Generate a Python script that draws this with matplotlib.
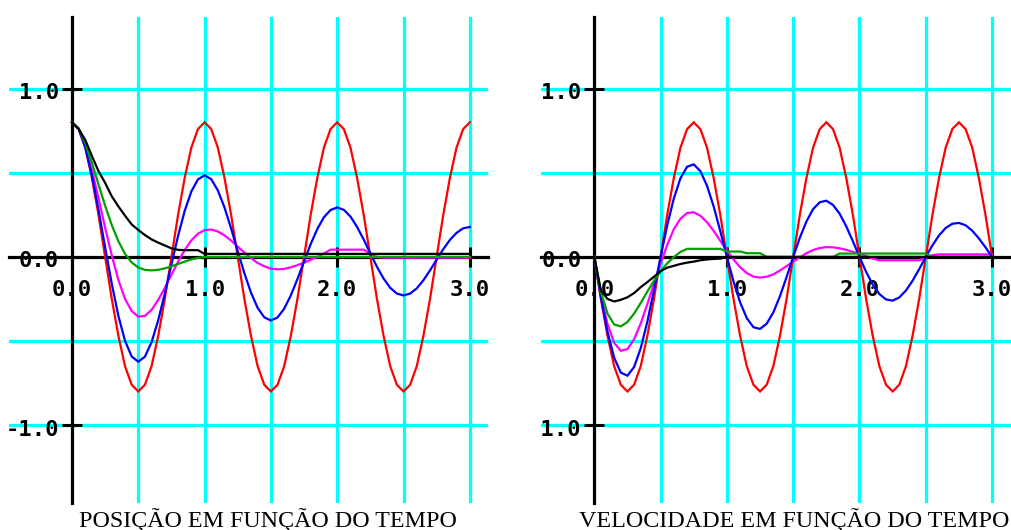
import numpy as np
import matplotlib
matplotlib.use("Agg")
import matplotlib.pyplot as plt
from matplotlib.transforms import offset_copy

# tempo (s), amostrado a cada 0.05
t = np.round(np.linspace(0.0, 3.0, 61), 2)

# posicao
red_pos = [0.80, 0.76, 0.65, 0.47, 0.25, 0.00, -0.25, -0.47, -0.65, -0.76,
           -0.80, -0.76, -0.65, -0.47, -0.25, 0.00, 0.25, 0.47, 0.65, 0.76,
           0.80, 0.76, 0.65, 0.47, 0.25, 0.00, -0.25, -0.47, -0.65, -0.76,
           -0.80, -0.76, -0.65, -0.47, -0.25, 0.00, 0.25, 0.47, 0.65, 0.76,
           0.80, 0.76, 0.65, 0.47, 0.25, 0.00, -0.25, -0.47, -0.65, -0.76,
           -0.80, -0.76, -0.65, -0.47, -0.25, 0.00, 0.25, 0.47, 0.65, 0.76,
           0.80]
blue_pos = [0.800, 0.762, 0.651, 0.485, 0.279, 0.056, -0.160, -0.351, -0.499, -0.592,
            -0.623, -0.593, -0.507, -0.377, -0.217, -0.044, 0.125, 0.274, 0.389, 0.461,
            0.485, 0.462, 0.395, 0.294, 0.169, 0.034, -0.097, -0.213, -0.303, -0.359,
            -0.378, -0.360, -0.308, -0.229, -0.132, -0.027, 0.076, 0.166, 0.236, 0.279,
            0.294, 0.280, 0.240, 0.178, 0.103, 0.021, -0.059, -0.129, -0.184, -0.218,
            -0.229, -0.218, -0.187, -0.139, -0.080, -0.016, 0.046, 0.101, 0.143, 0.170,
            0.178]
magenta_pos = [0.800, 0.763, 0.663, 0.518, 0.348, 0.173, 0.009, -0.138, -0.250, -0.322,
               -0.355, -0.351, -0.315, -0.256, -0.184, -0.105, -0.029, 0.041, 0.098, 0.138,
               0.159, 0.163, 0.151, 0.128, 0.097, 0.061, 0.026, -0.007, -0.036, -0.056,
               -0.070, -0.074, -0.071, -0.062, -0.049, -0.034, -0.017, 0.000, 0.020, 0.043,
               0.043, 0.043, 0.043, 0.043, 0.043, 0.020, 0.000, -0.004, -0.004, -0.004,
               -0.004, -0.004, -0.004, -0.004, -0.004, -0.004, -0.004, -0.004, -0.004, -0.004,
               -0.004]
green_pos = [0.800, 0.765, 0.677, 0.560, 0.430, 0.304, 0.189, 0.093, 0.018, -0.033,
             -0.063, -0.077, -0.080, -0.077, -0.068, -0.056, -0.042, -0.028, -0.015, -0.006,
             0.0, 0.0, 0.0, 0.0, 0.0, 0.0, 0.0, 0.0, 0.0, 0.0,
             0.0, 0.0, 0.0, 0.0, 0.0, 0.0, 0.0, 0.0, 0.0, 0.0,
             0.0, 0.0, 0.0, 0.0, 0.0, 0.0, 0.0, 0.0, 0.0, 0.0,
             0.0, 0.0, 0.0, 0.0, 0.0, 0.0, 0.0, 0.0, 0.0, 0.0,
             0.0]
black_pos = [0.800, 0.760, 0.695, 0.600, 0.510, 0.440, 0.360, 0.300, 0.245, 0.193,
             0.160, 0.130, 0.104, 0.085, 0.068, 0.051, 0.042, 0.040, 0.040, 0.040,
             0.018, 0.018, 0.018, 0.018, 0.018, 0.018, 0.018, 0.018, 0.018, 0.018,
             0.018, 0.018, 0.018, 0.018, 0.018, 0.018, 0.018, 0.018, 0.018, 0.018,
             0.018, 0.018, 0.018, 0.018, 0.018, 0.018, 0.018, 0.018, 0.018, 0.018,
             0.018, 0.018, 0.018, 0.018, 0.018, 0.018, 0.018, 0.018, 0.018, 0.018,
             0.018]

# velocidade
red_vel = [0.00, -0.25, -0.47, -0.65, -0.76, -0.80, -0.76, -0.65, -0.47, -0.25,
           0.00, 0.25, 0.47, 0.65, 0.76, 0.80, 0.76, 0.65, 0.47, 0.25,
           0.00, -0.25, -0.47, -0.65, -0.76, -0.80, -0.76, -0.65, -0.47, -0.25,
           0.00, 0.25, 0.47, 0.65, 0.76, 0.80, 0.76, 0.65, 0.47, 0.25,
           0.00, -0.25, -0.47, -0.65, -0.76, -0.80, -0.76, -0.65, -0.47, -0.25,
           0.00, 0.25, 0.47, 0.65, 0.76, 0.80, 0.76, 0.65, 0.47, 0.25,
           0.00]
blue_vel = [0.000, -0.241, -0.447, -0.600, -0.688, -0.706, -0.655, -0.543, -0.385, -0.197,
            0.000, 0.188, 0.348, 0.468, 0.536, 0.550, 0.510, 0.423, 0.300, 0.154,
            0.000, -0.146, -0.271, -0.364, -0.418, -0.428, -0.397, -0.330, -0.234, -0.120,
            0.000, 0.114, 0.211, 0.284, 0.325, 0.334, 0.309, 0.257, 0.182, 0.093,
            0.000, -0.089, -0.165, -0.221, -0.253, -0.260, -0.241, -0.200, -0.142, -0.073,
            0.000, 0.069, 0.128, 0.172, 0.197, 0.202, 0.188, 0.156, 0.110, 0.057,
            0.000]
magenta_vel = [0.000, -0.228, -0.401, -0.511, -0.558, -0.548, -0.490, -0.396, -0.281, -0.158,
               -0.040, 0.072, 0.165, 0.227, 0.261, 0.265, 0.245, 0.206, 0.155, 0.096,
               0.039, -0.015, -0.062, -0.096, -0.117, -0.123, -0.118, -0.104, -0.081, -0.055,
               -0.028, -0.003, 0.022, 0.041, 0.053, 0.058, 0.057, 0.051, 0.042, 0.030,
               0.018, 0.005, -0.010, -0.020, -0.020, -0.020, -0.020, -0.020, -0.020, -0.020,
               -0.005, 0.010, 0.015, 0.015, 0.015, 0.015, 0.015, 0.015, 0.015, 0.015,
               0.015]
green_vel = [0.000, -0.209, -0.338, -0.402, -0.413, -0.387, -0.337, -0.274, -0.206, -0.142,
             -0.085, -0.038, -0.001, 0.030, 0.048, 0.048, 0.048, 0.048, 0.048, 0.048,
             0.032, 0.032, 0.032, 0.022, 0.022, 0.022, 0.0, 0.0, 0.0, 0.0,
             0.0, 0.0, 0.0, 0.0, 0.0, 0.0, 0.0, 0.020, 0.020, 0.020,
             0.020, 0.020, 0.020, 0.020, 0.020, 0.020, 0.020, 0.020, 0.020, 0.020,
             0.020, 0.0, 0.0, 0.0, 0.0, 0.0, 0.0, 0.0, 0.0, 0.0,
             0.0]
black_vel = [0.000, -0.200, -0.250, -0.265, -0.255, -0.240, -0.215, -0.180, -0.150, -0.118,
             -0.085, -0.064, -0.053, -0.042, -0.034, -0.028, -0.020, -0.015, -0.012, -0.010,
             0.0, 0.0, 0.0, 0.0, 0.0, 0.0, 0.0, 0.0, 0.0, 0.0,
             0.0, 0.0, 0.0, 0.0, 0.0, 0.0, 0.0, 0.0, 0.0, 0.0,
             0.0, 0.0, 0.0, 0.0, 0.0, 0.0, 0.0, 0.0, 0.0, 0.0,
             0.0, 0.0, 0.0, 0.0, 0.0, 0.0, 0.0, 0.0, 0.0, 0.0,
             0.0]

colors = ['#ff0000', '#ff00ff', '#0000ff', '#00a000', '#000000']
grid_x = [0.5, 1.0, 1.5, 2.0, 2.5, 3.0]
grid_y = [-1.0, -0.5, 0.5, 1.0]
xtick_vals = [0, 1, 2, 3]
xtick_labels = ['0.0', '1.0', '2.0', '3.0']
ytick_vals = [1, 0, -1]
ytick_labels = ['1.0', '0.0', '-1.0']
titles = ['POSIÇÃO EM FUNÇÃO DO TEMPO', 'VELOCIDADE EM FUNÇÃO DO TEMPO']

W, H = 1012, 530
fig = plt.figure(figsize=(W / 100, H / 100), dpi=100)

CYAN = '#00ffff'
tick_font = dict(family='DejaVu Sans Mono', fontsize=16, fontweight='bold')


def panel(left_px, right_px, x0_px, series, title, title_px):
    px_per_x = 132.6
    ax = fig.add_axes([left_px / W, 1 - 503 / H, (right_px - left_px) / W, (503 - 16.7) / H])
    ax.set_xlim((left_px - x0_px) / px_per_x, (right_px - x0_px) / px_per_x)
    ax.set_ylim(-1.463, 1.428)

    for gx in grid_x:
        ax.axvline(gx, color=CYAN, lw=2.3, zorder=1)
    for gy in grid_y:
        ax.axhline(gy, color=CYAN, lw=2.3, zorder=1)

    for s in ['top', 'right']:
        ax.spines[s].set_visible(False)
    for s in ['left', 'bottom']:
        ax.spines[s].set_position(('data', 0))
        ax.spines[s].set_linewidth(2.3)
        ax.spines[s].set_zorder(2.5)
    ax.set_xticks([1, 2, 3])
    ax.set_yticks([-1, 1])
    ax.tick_params(axis='x', direction='inout', length=14.4, width=2.2,
                   labelbottom=False)
    ax.tick_params(axis='y', direction='inout', length=15.1, width=2.2,
                   labelleft=False)

    tr_y = offset_copy(ax.transData, fig=fig, x=-13, y=-10.5, units='dots')
    for yv, lab in zip(ytick_vals, ytick_labels):
        ax.text(0, yv, lab, transform=tr_y, ha='right', va='baseline',
                clip_on=True, zorder=2, **tick_font)
    tr_x = offset_copy(ax.transData, fig=fig, x=0, y=-39.5, units='dots')
    for xv, lab in zip(xtick_vals, xtick_labels):
        ax.text(xv, 0, lab, transform=tr_x, ha='center', va='baseline',
                zorder=2, **tick_font)

    for ys, c in zip(series, colors):
        ax.plot(t, ys, color=c, lw=1.6, zorder=3, solid_joinstyle='miter')

    fig.text(title_px / W, 3.4 / H, title, family='Liberation Serif',
             fontsize=17.3, ha='center', va='baseline')
    return ax


panel(9, 488, 72, [red_pos, magenta_pos, blue_pos, green_pos, black_pos],
      titles[0], 268)
panel(540.7, 1012, 594.3, [red_vel, magenta_vel, blue_vel, green_vel, black_vel],
      titles[1], 794)

fig.savefig('out.png', dpi=100)
